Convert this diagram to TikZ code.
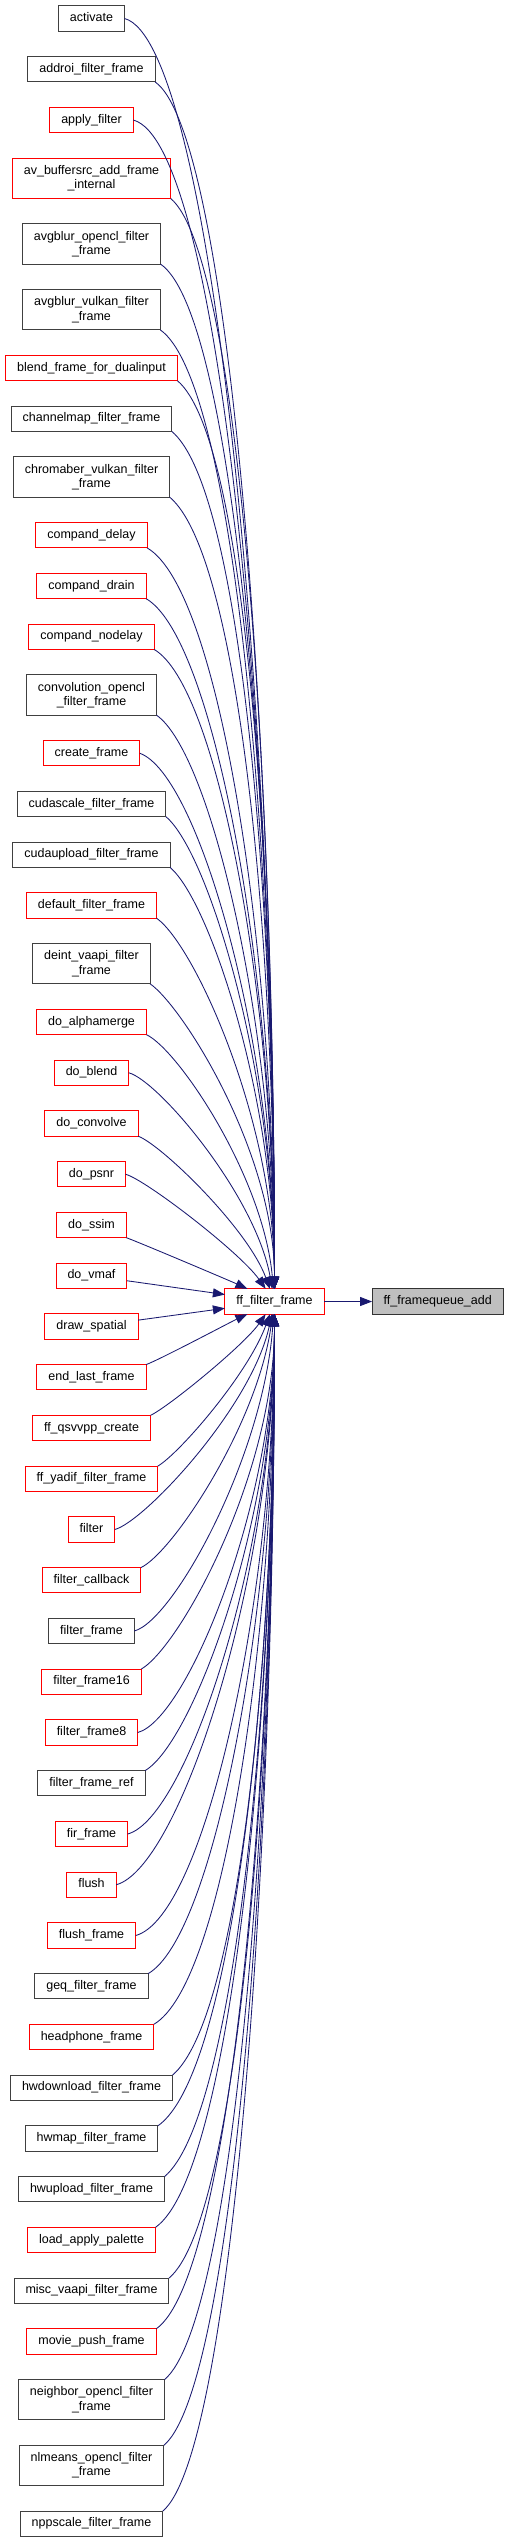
\documentclass[tikz,border=0pt]{standalone}
\usepackage{fontspec}
\setmainfont{Liberation Sans}
\usetikzlibrary{arrows.meta, positioning}
\definecolor{doxyblue}{HTML}{191970}
\definecolor{doxyred}{HTML}{FF0000}
\definecolor{doxyline}{HTML}{404040}
\definecolor{doxygrey}{HTML}{BFBFBF}
\tikzset{
  node distance=25.45pt,
  >={Triangle[length=12pt, width=9pt]},
  box/.style={rectangle, draw=doxyline, fill=white, line width=1pt, align=center,
              minimum height=25.3pt, inner xsep=11.5pt, inner ysep=0pt, outer sep=0pt,
              text height=9.4pt, text depth=3.3pt, font=\fontsize{12.5}{14.3}\selectfont},
  boxr/.style={box, draw=doxyred},
  boxs/.style={box, draw=black!80, fill=doxygrey},
  tall/.style={minimum height=40.3pt, text height={}, text depth={}},
  link/.style={->, draw=doxyblue, line width=0.85pt},
}
% curved call from a caller anchor into ff_filter_frame
\newcommand{\callcurve}[3]{%
  \path (#1); \pgfgetlastxy{\sx}{\sy}%
  \pgfmathsetmacro\dd{0.47*max(abs(\sy+1301.5),100)}%
  \pgfmathsetmacro\od{min(90,0.1*abs(\sy+1301.5)+8)}%
  \draw[link] (#1) .. controls +(#2:\od pt) and +(#3:\dd pt) .. (fff);%
}

\begin{document}
\begin{tikzpicture}
  \fill[white] (0,0) rectangle (508pt,-2543pt);
  % callers, one column
  \node[box] (activate) at (91.5pt,-18.5pt) {activate};
  \node[box, below=of activate] (addroi) {addroi\_filter\_frame};
  \node[boxr, below=of addroi] (applyf) {apply\_filter};
  \node[boxr, tall, below=of applyf] (avbuf) {av\_buffersrc\_add\_frame\\\_internal};
  \node[box, tall, below=of avbuf] (avgocl) {avgblur\_opencl\_filter\\\_frame};
  \node[box, tall, below=of avgocl] (avgvk) {avgblur\_vulkan\_filter\\\_frame};
  \node[boxr, below=of avgvk] (blend) {blend\_frame\_for\_dualinput};
  \node[box, below=of blend] (chmap) {channelmap\_filter\_frame};
  \node[box, tall, below=of chmap] (chroma) {chromaber\_vulkan\_filter\\\_frame};
  \node[boxr, below=of chroma] (cdelay) {compand\_delay};
  \node[boxr, below=of cdelay] (cdrain) {compand\_drain};
  \node[boxr, below=of cdrain] (cnodelay) {compand\_nodelay};
  \node[box, tall, below=of cnodelay] (convocl) {convolution\_opencl\\\_filter\_frame};
  \node[boxr, below=of convocl] (createf) {create\_frame};
  \node[box, below=of createf] (cudascale) {cudascale\_filter\_frame};
  \node[box, below=of cudascale] (cudaup) {cudaupload\_filter\_frame};
  \node[boxr, below=of cudaup] (deff) {default\_filter\_frame};
  \node[box, tall, below=of deff] (deint) {deint\_vaapi\_filter\\\_frame};
  \node[boxr, below=of deint] (alphamerge) {do\_alphamerge};
  \node[boxr, below=of alphamerge] (doblend) {do\_blend};
  \node[boxr, below=of doblend] (doconv) {do\_convolve};
  \node[boxr, below=of doconv] (dopsnr) {do\_psnr};
  \node[boxr, below=of dopsnr] (dossim) {do\_ssim};
  \node[boxr, below=of dossim] (dovmaf) {do\_vmaf};
  \node[boxr, below=of dovmaf] (drawsp) {draw\_spatial};
  \node[boxr, below=of drawsp] (endlast) {end\_last\_frame};
  \node[boxr, below=of endlast] (qsvvpp) {ff\_qsvvpp\_create};
  \node[boxr, below=of qsvvpp] (yadif) {ff\_yadif\_filter\_frame};
  \node[boxr, below=of yadif] (filt) {filter};
  \node[boxr, below=of filt] (filtcb) {filter\_callback};
  \node[box, below=of filtcb] (filtfr) {filter\_frame};
  \node[boxr, below=of filtfr] (filtfr16) {filter\_frame16};
  \node[boxr, below=of filtfr16] (filtfr8) {filter\_frame8};
  \node[box, below=of filtfr8] (filtref) {filter\_frame\_ref};
  \node[boxr, below=of filtref] (firfr) {fir\_frame};
  \node[boxr, below=of firfr] (flush) {flush};
  \node[boxr, below=of flush] (flushfr) {flush\_frame};
  \node[box, below=of flushfr] (geq) {geq\_filter\_frame};
  \node[boxr, below=of geq] (headph) {headphone\_frame};
  \node[box, below=of headph] (hwdown) {hwdownload\_filter\_frame};
  \node[box, below=of hwdown] (hwmap) {hwmap\_filter\_frame};
  \node[box, below=of hwmap] (hwup) {hwupload\_filter\_frame};
  \node[boxr, below=of hwup] (loadpal) {load\_apply\_palette};
  \node[box, below=of loadpal] (miscva) {misc\_vaapi\_filter\_frame};
  \node[boxr, below=of miscva] (moviep) {movie\_push\_frame};
  \node[box, tall, below=of moviep] (neighbor) {neighbor\_opencl\_filter\\\_frame};
  \node[box, tall, below=of neighbor] (nlmeans) {nlmeans\_opencl\_filter\\\_frame};
  \node[box, below=of nlmeans] (nppscale) {nppscale\_filter\_frame};
  % callee and its own callee
  \node[boxr] (fff) at (274.5pt,-1301.5pt) {ff\_filter\_frame};
  \node[boxs, right=48pt of fff] (ffq) {ff\_framequeue\_add};
  % calls from above
  \foreach \n/\a/\o/\i in {activate/east/-15/90, addroi/south east/-35/90,
      applyf/east/-15/90, avbuf/south east/-40/90, avgocl/south east/-35/90,
      avgvk/south east/-35/90, blend/south east/-40/90, chmap/south east/-40/90,
      chroma/south east/-40/90, cdelay/south east/-30/90, cdrain/south east/-30/90,
      cnodelay/south east/-30/90, convocl/south east/-35/90, createf/east/-20/90,
      cudascale/south east/-40/90, cudaup/south east/-40/90, deff/south east/-35/90,
      deint/south east/-35/90, alphamerge/south east/-25/95, doblend/east/-15/100,
      doconv/south east/-20/110, dopsnr/east/-15/125, dossim/south east/-20/155}{
    \callcurve{\n.\a}{\o}{\i}
  }
  % calls from below
  \foreach \n/\a/\o/\i in {endlast/north east/20/205, qsvvpp/north east/25/235,
      yadif/north east/30/250, filt/east/15/258, filtcb/north east/25/262,
      filtfr/east/15/266, filtfr16/north east/30/270, filtfr8/east/15/270,
      filtref/north east/30/270, firfr/east/15/270, flush/east/15/270,
      flushfr/east/15/270, geq/north east/30/270, headph/north east/30/270,
      hwdown/north east/40/270, hwmap/north east/35/270, hwup/north east/40/270,
      loadpal/north east/35/270, miscva/north east/40/270, moviep/north east/35/270,
      neighbor/north east/40/270, nlmeans/north east/40/270, nppscale/north east/40/270}{
    \callcurve{\n.\a}{\o}{\i}
  }
  \draw[link] (dovmaf) -- (fff);
  \draw[link] (drawsp) -- (fff);
  \draw[link] (fff) -- (ffq);
\end{tikzpicture}
\end{document}
